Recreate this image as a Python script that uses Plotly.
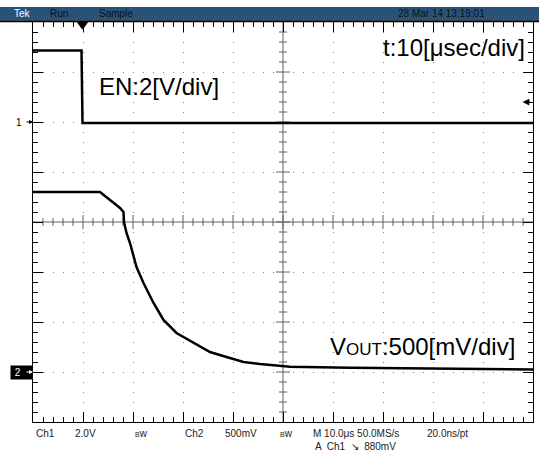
import plotly.graph_objects as go

# Ch1 (EN), volts vs time in usec (0 = screen centre)
ch1_t = [-50, -40.3, -40.1, 50]
ch1_v = [2.86, 2.86, -0.04, -0.04]

# Ch2 (VOUT), volts vs time in usec
ch2_t = [-50, -36.6, -34.6, -32.6, -31.9, -31.8, -31.3, -30.6, -29.3, -27.9, -25.9,
         -23.9, -21.3, -17.9, -14.6, -11.3, -7.9, -4.6, -1.3, 1.4, 13.4, 27.4, 39.4, 50]
ch2_v = [1.80, 1.80, 1.72, 1.64, 1.60, 1.50, 1.39, 1.29, 1.05, 0.89, 0.69,
         0.52, 0.39, 0.29, 0.20, 0.15, 0.10, 0.08, 0.063, 0.053, 0.042, 0.035, 0.03, 0.025]

trig_t = -40      # trigger position (usec)
trig_level = 0.88  # Ch1 trigger level (V)

header = ["Tek", "Run", "Sample"]
header_date = "28 Mar 14 13:19:01"
bottom_row1 = ["Ch1", "2.0V", "<span style='font-size:7px'>B</span>w", "Ch2", "500mV",
               "<span style='font-size:7px'>B</span>w", "M 10.0μs 50.0MS/s", "20.0ns/pt"]
bottom_row2 = "A  Ch1  ↘  880mV"

FONT = "Arial, Liberation Sans, sans-serif"

fig = go.Figure()
fig.add_trace(go.Scatter(x=ch1_t, y=ch1_v, mode="lines",
                         line=dict(color="black", width=2.5), yaxis="y"))
fig.add_trace(go.Scatter(x=ch2_t, y=ch2_v, mode="lines",
                         line=dict(color="black", width=2.5), yaxis="y2"))

axis_common = dict(showline=True, linecolor="black", linewidth=1, mirror="ticks",
                   ticks="inside", ticklen=10, tickcolor="black", tickwidth=1,
                   showticklabels=False, showgrid=True, gridcolor="#808080",
                   gridwidth=1, griddash="1px,9px", zeroline=False, fixedrange=True)

fig.update_layout(
    width=539, height=452,
    margin=dict(l=33, r=6, t=22, b=30),
    paper_bgcolor="white", plot_bgcolor="white",
    showlegend=False,
    xaxis=dict(range=[-50, 50], dtick=10, tick0=0,
               minor=dict(dtick=2, ticklen=5, ticks="inside", tickcolor="black", showgrid=False),
               **axis_common),
    yaxis=dict(range=[-12, 4], dtick=2, tick0=0,
               minor=dict(dtick=0.4, ticklen=5, ticks="inside", tickcolor="black", showgrid=False),
               **axis_common),
    yaxis2=dict(range=[-0.5, 3.5], overlaying="y", visible=False, fixedrange=True),
)

# centre cross with small ticks
path = "M0,0.5 L1,0.5 M0.5,0 L0.5,1 "
for k in range(1, 50):
    h = 0.0175 if k % 5 == 0 else 0.01
    path += f"M{k/50},{0.5-h} L{k/50},{0.5+h} "
for k in range(1, 40):
    w = 0.014 if k % 5 == 0 else 0.008
    path += f"M{0.5-w},{k/40} L{0.5+w},{k/40} "
fig.add_shape(type="path", path=path, xref="paper", yref="paper",
              line=dict(color="#606060", width=1), layer="below")

# header bar and thick top edge
fig.add_shape(type="rect", xref="paper", yref="paper", x0=-0.07, x1=1.02,
              y0=1.005, y1=1.0375, fillcolor="#28527a", line_width=0)
fig.add_shape(type="line", xref="paper", yref="paper", x0=-0.066, x1=1.012,
              y0=1.002, y1=1.002, line=dict(color="black", width=2))

for txt, x, col in zip(header, [-0.042, 0.03, 0.128], ["white", "#111", "#111"]):
    fig.add_annotation(text=txt, x=x, y=1.021, xref="paper", yref="paper",
                       xanchor="left", yanchor="middle", showarrow=False,
                       font=dict(family=FONT, size=10, color=col))
fig.add_annotation(text=header_date, x=0.908, y=1.021, xref="paper", yref="paper",
                   xanchor="right", yanchor="middle", showarrow=False,
                   font=dict(family=FONT, size=10, color="#111"))

# trigger position marker (small triangle under the top edge)
fig.add_shape(type="path", xref="x", yref="paper",
              path=f"M{trig_t - 1.1},0.999 L{trig_t + 0.9},0.999 L{trig_t - 0.1},0.982 Z",
              fillcolor="black", line=dict(color="black", width=1))
# trigger level marker
fig.add_annotation(text="", x=0.979, y=trig_level, xref="paper", yref="y",
                   showarrow=True, ax=9, ay=0, arrowhead=2, arrowsize=0.9,
                   arrowwidth=1.5, arrowcolor="black", yshift=-2)

# channel ground markers
fig.add_annotation(text="1", x=0, y=0, xref="paper", yref="y", xanchor="right",
                   showarrow=False, xshift=-9,
                   font=dict(family=FONT, size=10, color="black"))
fig.add_annotation(text="", x=0, y=0, xref="paper", yref="y", showarrow=True,
                   ax=-8, ay=0, arrowhead=2, arrowsize=0.8, arrowwidth=1, arrowcolor="black")
fig.add_annotation(text=" 2    ", x=0, y=0, xref="paper", yref="y2", xanchor="right",
                   showarrow=False, bgcolor="black", borderpad=1,
                   font=dict(family=FONT, size=10, color="white"))
fig.add_annotation(text="", x=0, y=0, xref="paper", yref="y2", showarrow=True,
                   ax=-8, ay=0, arrowhead=2, arrowsize=0.8, arrowwidth=1, arrowcolor="white")

# big labels
big = dict(family=FONT, size=24, color="black")
fig.add_annotation(text="t:10[μsec/div]", x=0.696, y=0.935, xref="paper", yref="paper",
                   xanchor="left", yanchor="middle", showarrow=False, font=big)
fig.add_annotation(text="EN:2[V/div]", x=0.128, y=0.84, xref="paper", yref="paper",
                   xanchor="left", yanchor="middle", showarrow=False, font=big)
fig.add_annotation(text="V<span style='font-size:17px'>OUT</span>:500[mV/div]",
                   x=0.59, y=0.19, xref="paper", yref="paper",
                   xanchor="left", yanchor="middle", showarrow=False, font=big)

# status line at the bottom
for txt, x in zip(bottom_row1, [0.002, 0.08, 0.2, 0.3, 0.38, 0.49, 0.556, 0.784]):
    fig.add_annotation(text=txt, x=x, y=-0.0275, xref="paper", yref="paper",
                       xanchor="left", yanchor="middle", showarrow=False,
                       font=dict(family=FONT, size=10, color="#222"))
fig.add_annotation(text=bottom_row2, x=0.56, y=-0.06, xref="paper", yref="paper",
                   xanchor="left", yanchor="middle", showarrow=False,
                   font=dict(family=FONT, size=10, color="#222"))

fig.write_html("out.html", config={"displayModeBar": False},
               post_script="document.body.style.margin='0px';")
